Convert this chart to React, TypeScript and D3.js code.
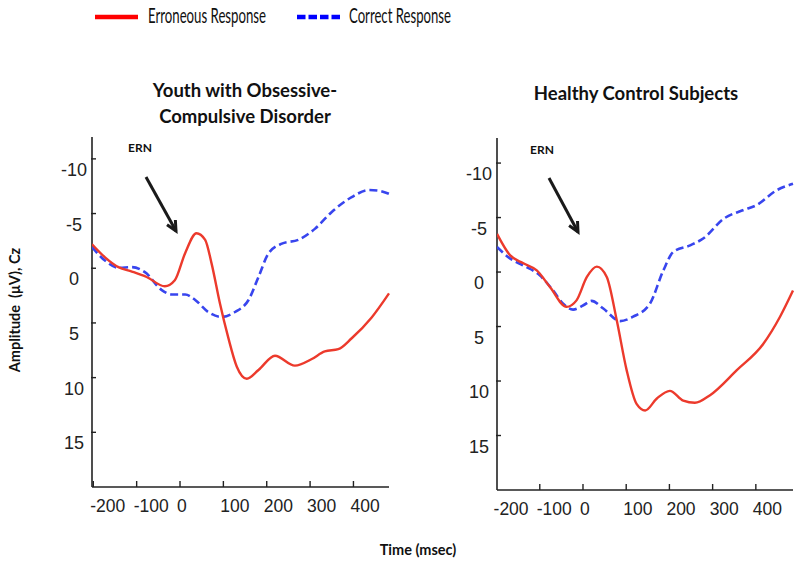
import React from "react";
import * as d3 from "d3";

// ---------- Data ----------
const xTickValues = [-200, -100, 0, 100, 200, 300, 400];
const yTickValues = [-10, -5, 0, 5, 10, 15];

const seriesNames = ["Erroneous Response", "Correct Response"];
const panelTitles = [["Youth with Obsessive-", "Compulsive Disorder"], ["Healthy Control Subjects"]];

// OCD panel
const ocdErrorTime = [-203, -173, -142, -111, -77, -35, -12, 12, 38, 58, 73, 92, 111, 131, 154, 181, 219, 265, 304, 334, 365, 396, 442, 482];
const ocdErrorAmp = [-2.2, -1.0, -0.1, 0.3, 0.8, 1.65, 1.1, -1.4, -3.2, -2.6, -0.4, 3.2, 6.3, 9.0, 10.1, 9.3, 8.0, 8.9, 8.3, 7.6, 7.4, 6.4, 4.5, 2.3];
const ocdCorrectTime = [-203, -173, -142, -111, -81, -42, -19, 12, 35, 65, 96, 127, 158, 181, 204, 235, 273, 311, 350, 396, 435, 457, 482];
const ocdCorrectAmp = [-1.95, -0.7, -0.05, -0.1, 0.35, 2.0, 2.4, 2.4, 2.9, 4.0, 4.45, 4.0, 2.9, 0.8, -1.35, -2.25, -2.6, -3.6, -5.15, -6.5, -7.15, -7.1, -6.8];

// Healthy control panel
const hcErrorTime = [-199, -169, -138, -107, -76, -38, -15, 9, 32, 55, 78, 101, 124, 144, 171, 201, 232, 259, 294, 356, 417, 456, 486];
const hcErrorAmp = [-3.5, -1.55, -0.8, -0.15, 1.4, 3.2, 2.6, 0.45, -0.5, 0.45, 4.4, 9.0, 12.1, 12.7, 11.6, 10.9, 11.8, 12.0, 11.3, 9.0, 6.6, 4.1, 1.7];
const hcCorrectTime = [-199, -169, -138, -100, -69, -46, -23, 1, 20, 47, 86, 116, 155, 186, 209, 248, 279, 326, 372, 402, 448, 486];
const hcCorrectAmp = [-2.3, -1.25, -0.6, 0.3, 1.7, 2.9, 3.45, 3.05, 2.65, 3.35, 4.5, 4.1, 2.9, -0.15, -1.85, -2.45, -3.1, -4.9, -5.7, -6.15, -7.5, -8.1];

// ---------- Layout ----------
const W = 800;
const H = 566;
const RED = "#ec3a2c";
const BLUE = "#3845ee";
const AXIS = "#222";

type Panel = {
  title: string[];
  titleX: number;
  titleY: number;
  xDomain: [number, number];
  xRange: [number, number];
  yDomain: [number, number];
  yRange: [number, number];
  errT: number[];
  errA: number[];
  corT: number[];
  corA: number[];
  ern: { x: number; y: number; x1: number; y1: number; x2: number; y2: number };
};

const panels: Panel[] = [
  {
    title: panelTitles[0],
    titleX: 245,
    titleY: 97,
    xDomain: [-203, 482],
    xRange: [92, 389],
    yDomain: [-12, 20],
    yRange: [137, 487],
    errT: ocdErrorTime,
    errA: ocdErrorAmp,
    corT: ocdCorrectTime,
    corA: ocdCorrectAmp,
    ern: { x: 140, y: 152, x1: 146, y1: 177, x2: 176, y2: 231 },
  },
  {
    title: panelTitles[1],
    titleX: 636,
    titleY: 100,
    xDomain: [-199, 486],
    xRange: [497, 793],
    yDomain: [-12.3, 20],
    yRange: [138, 490],
    errT: hcErrorTime,
    errA: hcErrorAmp,
    corT: hcCorrectTime,
    corA: hcCorrectAmp,
    ern: { x: 542, y: 154, x1: 549, y1: 178, x2: 578, y2: 232 },
  },
];

function PanelView({ p, idx }: { p: Panel; idx: number }) {
  const x = d3.scaleLinear().domain(p.xDomain).range(p.xRange);
  const y = d3.scaleLinear().domain(p.yDomain).range(p.yRange);
  const line = d3
    .line<[number, number]>()
    .x((d) => x(d[0]))
    .y((d) => y(d[1]))
    .curve(d3.curveMonotoneX);
  const errPts = p.errT.map((t, i) => [t, p.errA[i]] as [number, number]);
  const corPts = p.corT.map((t, i) => [t, p.corA[i]] as [number, number]);
  const [x0, x1] = p.xRange;
  const [yTop, yBot] = p.yRange;
  const clipId = `clip-${idx}`;

  // arrow head
  const { x1: ax1, y1: ay1, x2: ax2, y2: ay2 } = p.ern;
  const ang = Math.atan2(ay2 - ay1, ax2 - ax1);
  const hl = 11;
  const spread = Math.PI / 7;
  const h1 = [ax2 - hl * Math.cos(ang - spread), ay2 - hl * Math.sin(ang - spread)];
  const h2 = [ax2 - hl * Math.cos(ang + spread), ay2 - hl * Math.sin(ang + spread)];

  return (
    <g>
      <defs>
        <clipPath id={clipId}>
          <rect x={x0} y={yTop - 5} width={x1 - x0 + 2} height={yBot - yTop + 5} />
        </clipPath>
      </defs>
      {p.title.map((t, i) => (
        <text
          key={i}
          x={p.titleX}
          y={p.titleY + i * 26}
          textAnchor="middle"
          fontFamily="Lato, 'Open Sans', sans-serif"
          fontWeight="bold"
          fontSize={18.5}
          fill="#111"
        >
          {t}
        </text>
      ))}
      {/* axes */}
      <line x1={x0} y1={yTop} x2={x0} y2={yBot} stroke={AXIS} strokeWidth={1.6} />
      <line x1={x0} y1={yBot} x2={x1} y2={yBot} stroke={AXIS} strokeWidth={1.6} />
      {yTickValues.map((v) => (
        <g key={`y${v}`}>
          <line x1={x0 - 1} y1={y(v)} x2={x0 + 4} y2={y(v)} stroke={AXIS} strokeWidth={1.4} />
          <text
            x={x0 - 18}
            y={y(v) + 17}
            textAnchor="middle"
            fontFamily="'Liberation Sans', Arial, sans-serif"
            fontSize={18}
            fill="#222"
          >
            {v}
          </text>
        </g>
      ))}
      {xTickValues.map((v) => (
        <g key={`x${v}`}>
          {v > p.xDomain[0] && (
            <line x1={x(v)} y1={yBot} x2={x(v)} y2={yBot - 6} stroke={AXIS} strokeWidth={1.4} />
          )}
          <text
            x={x(v) - 3}
            y={yBot + 25}
            textAnchor="start"
            fontFamily="'Liberation Sans', Arial, sans-serif"
            fontSize={17.5}
            fill="#222"
          >
            {v}
          </text>
        </g>
      ))}
      {/* curves */}
      <g clipPath={`url(#${clipId})`}>
        <path d={line(corPts) || ""} fill="none" stroke={BLUE} strokeWidth={2.6} strokeDasharray="8,4" />
        <path d={line(errPts) || ""} fill="none" stroke={RED} strokeWidth={2.4} />
      </g>
      {/* ERN annotation */}
      <text
        x={p.ern.x}
        y={p.ern.y}
        textAnchor="middle"
        fontFamily="Lato, 'Open Sans', sans-serif"
        fontWeight="bold"
        fontSize={12}
        fill="#111"
      >
        ERN
      </text>
      <line x1={ax1} y1={ay1} x2={ax2} y2={ay2} stroke="#1a1a1a" strokeWidth={3} />
      <path
        d={`M${h1[0]},${h1[1]} L${ax2},${ay2} L${h2[0]},${h2[1]}`}
        fill="none"
        stroke="#1a1a1a"
        strokeWidth={3}
      />
    </g>
  );
}

export default function App() {
  return (
    <svg
      width={W}
      height={H}
      viewBox={`0 0 ${W} ${H}`}
      style={{ position: "absolute", left: 0, top: 0, background: "#fff" }}
    >
      <rect x={0} y={0} width={W} height={H} fill="#fff" />
      {/* legend */}
      <line x1={95} y1={17} x2={138} y2={17} stroke="#ff0000" strokeWidth={4.5} />
      <text
        x={148}
        y={22.5}
        fontFamily="Lato, 'Open Sans', sans-serif"
        fontSize={21}
        textLength={118}
        lengthAdjust="spacingAndGlyphs"
        fill="#111"
      >
        {seriesNames[0]}
      </text>
      <line x1={297} y1={17} x2={340} y2={17} stroke="#0000ff" strokeWidth={4.5} strokeDasharray="8.5,3" />
      <text
        x={349}
        y={22.5}
        fontFamily="Lato, 'Open Sans', sans-serif"
        fontSize={21}
        textLength={102}
        lengthAdjust="spacingAndGlyphs"
        fill="#111"
      >
        {seriesNames[1]}
      </text>
      {panels.map((p, i) => (
        <PanelView key={i} p={p} idx={i} />
      ))}
      {/* axis titles */}
      <text
        transform="translate(20,310) rotate(-90)"
        textAnchor="middle"
        fontFamily="Lato, 'Open Sans', sans-serif"
        fontWeight="bold"
        fontSize={14.5}
        fill="#111"
        style={{ whiteSpace: "pre" }}
      >
        {"Amplitude  (μV), Cz"}
      </text>
      <text
        x={418}
        y={555}
        textAnchor="middle"
        fontFamily="Lato, 'Open Sans', sans-serif"
        fontWeight="bold"
        fontSize={14.5}
        fill="#111"
      >
        Time (msec)
      </text>
    </svg>
  );
}
